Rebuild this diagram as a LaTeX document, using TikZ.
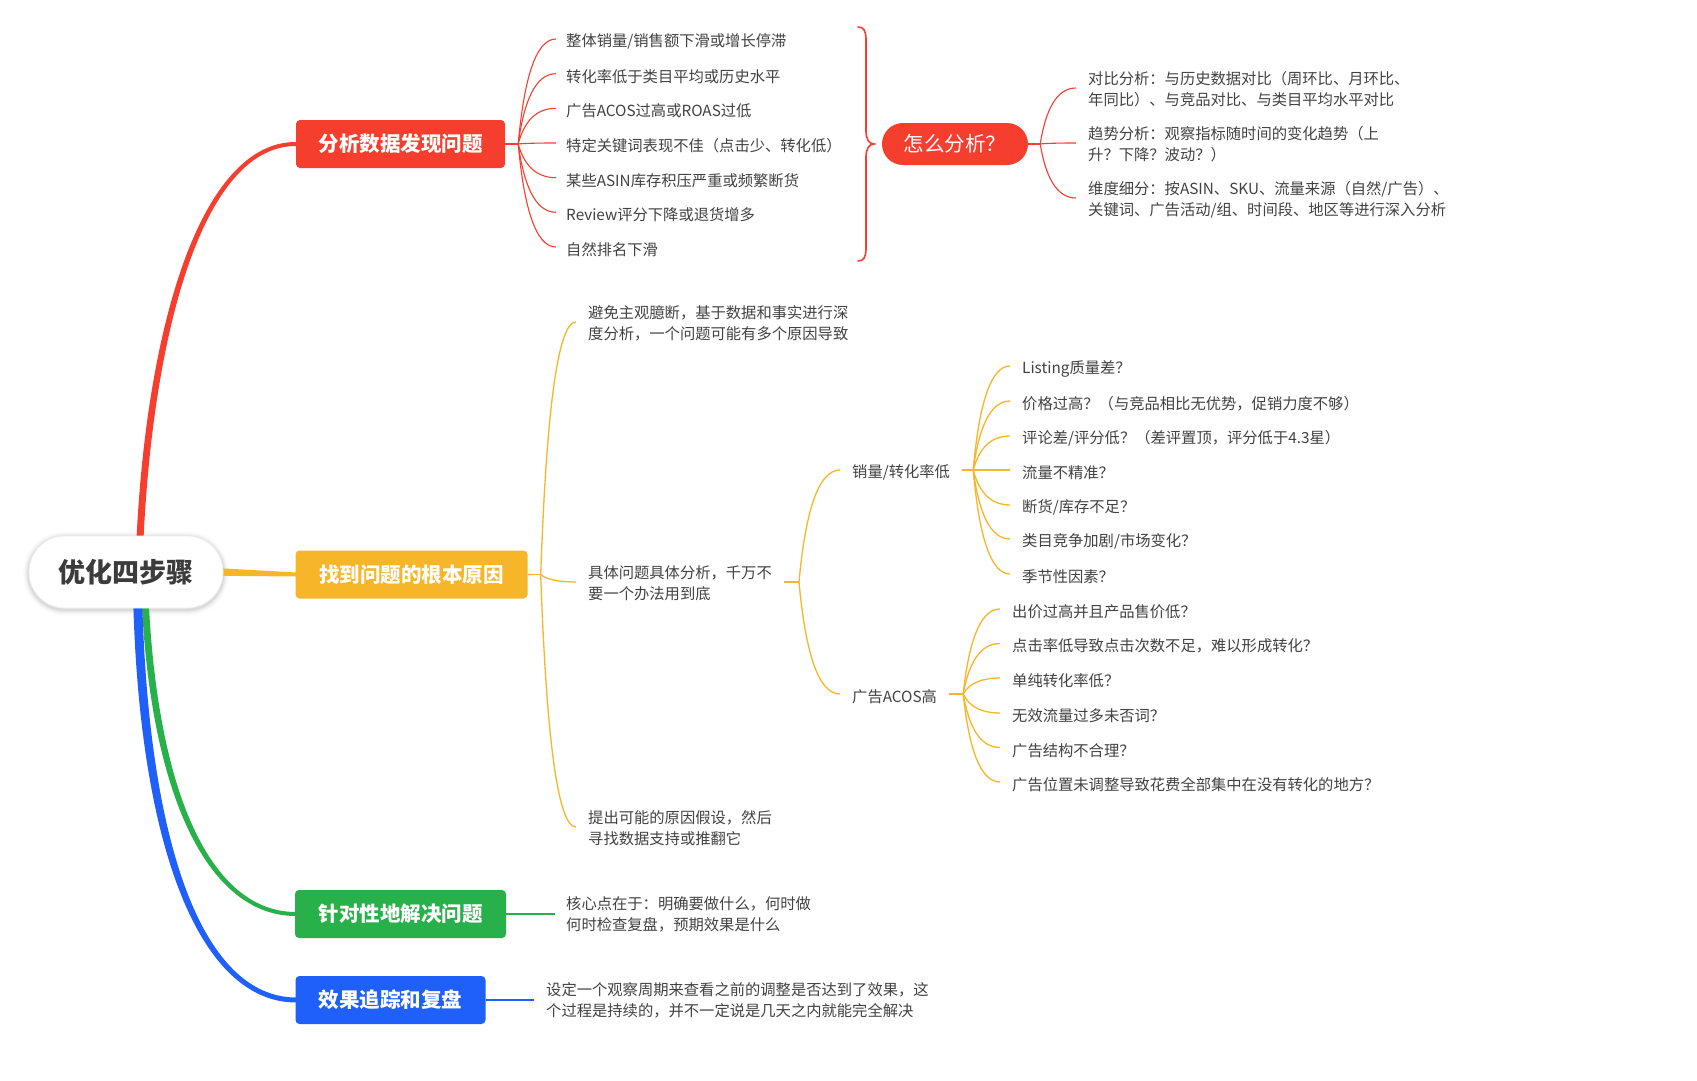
\documentclass[tikz,border=0pt]{standalone}
\usepackage{fontspec}
\setmainfont{Noto Sans CJK SC}
\usetikzlibrary{calc}
\definecolor{redc}{RGB}{246,62,47}
\definecolor{ylw}{RGB}{247,182,41}
\definecolor{grn}{RGB}{40,176,75}
\definecolor{blu}{RGB}{32,96,250}
\definecolor{txtc}{RGB}{66,66,66}
\definecolor{rootc}{RGB}{60,60,60}
\pgfdeclarelayer{back}
\pgfdeclarelayer{bg}
\pgfsetlayers{back,bg,main}
% #1 style, #2 start, #3 target anchor, #4 vertical offset of the end point
\newcommand\kidlink[4]{\draw[#1] let \p1=(#2), \p2=($(#3)+(0,#4)$), \n3={0.15*(\x2-\x1)}, \n4={0.6*(\y2-\y1)}, \n5={-0.55*(\x2-\x1)} in (\p1) .. controls +(\n3,\n4) and +(\n5,0pt) .. (\p2);}
\tikzset{
  rootbox/.style={rounded corners=36pt, minimum width=194pt, minimum height=72pt, inner sep=0pt,
    fill=white, draw=black!6, line width=0.8pt,
    font=\fontsize{27}{30}\selectfont\bfseries, text=rootc},
  mainbox/.style={rounded corners=4pt, minimum height=48pt, inner sep=0pt, text=white,
    font=\fontsize{20.5}{24}\selectfont\bfseries},
  pillbox/.style={rounded corners=21pt, minimum width=146pt, minimum height=42pt, inner sep=0pt,
    fill=redc, text=white, font=\fontsize{20.5}{24}\selectfont},
  txt/.style={anchor=west, inner xsep=12pt, inner ysep=1pt, align=left, text=txtc,
    font=\fontsize{15.3}{21}\selectfont},
  txtone/.style={txt, yshift=-2.8pt},
  rthin/.style={draw=redc, line width=1.1pt},
  ythin/.style={draw=ylw, line width=1.3pt},
  gthin/.style={draw=grn, line width=1.2pt},
  bthin/.style={draw=blu, line width=1.2pt},
}
\begin{document}
\begin{tikzpicture}[x=1pt,y=-1pt]
\useasboundingbox (0,0) rectangle (1697,1081);
\begin{pgfonlayer}{back}
\fill[white] (0,0) rectangle (1697,1081);
\end{pgfonlayer}

% ---------- root and main boxes ----------
\node[rootbox] (root) at (126,572) {优化四步骤};
\node[mainbox, fill=redc, minimum width=209pt] (rbox) at (400.5,144) {分析数据发现问题};
\node[mainbox, fill=ylw, minimum width=232pt] (ybox) at (411.5,574.5) {找到问题的根本原因};
\node[mainbox, fill=grn, minimum width=211pt] (gbox) at (400.5,914) {针对性地解决问题};
\node[mainbox, fill=blu, minimum width=190pt] (bbox) at (390.5,1000) {效果追踪和复盘};

\begin{pgfonlayer}{back}
% soft shadow of the root
\foreach \k/\o in {1/0.045,2/0.035,3/0.025,4/0.018,5/0.012,6/0.008}{
  \pgfmathsetmacro\rr{36+\k}
  \fill[black, opacity=\o, rounded corners=\rr pt] ($(root.south west)+(-\k,\k+1.5)$) rectangle ($(root.north east)+(\k,-\k+1.5)$);
}
\end{pgfonlayer}

\begin{pgfonlayer}{bg}
% red main branch (tapered)
\fill[redc] ($(root.69)+(-3.5,4)$) .. controls +(10,-211) and +(-96,0) .. ($(rbox.west)+(0,-2)$)
  -- ($(rbox.west)+(0,2)$) .. controls +(-92,0) and +(10,-211) .. ($(root.69)+(3.5,4)$) -- cycle;
% yellow main branch
\fill[ylw] ($(root.east)+(-4,-3.8)$) -- ($(ybox.west)+(1,-2)$) -- ($(ybox.west)+(1,2)$) -- ($(root.east)+(-4,3.8)$) -- cycle;
% green main branch
\fill[grn] ($(root.-62)+(-3.5,-4)$) .. controls +(10,196) and +(-86,0) .. ($(gbox.west)+(1,2)$)
  -- ($(gbox.west)+(1,-2)$) .. controls +(-82,0) and +(10,196) .. ($(root.-62)+(3.5,-4)$) -- cycle;
% blue main branch
\fill[blu] ($(root.-72)+(-4.5,-4)$) .. controls +(7,246) and +(-96,0) .. ($(bbox.west)+(1,2.5)$)
  -- ($(bbox.west)+(1,-2.5)$) .. controls +(-92,0) and +(7,246) .. ($(root.-72)+(4.5,-4)$) -- cycle;
\end{pgfonlayer}

% ---------- red subtree ----------
\coordinate (rb) at ($(rbox.east)+(13,0)$);
\draw[rthin] (rbox.east) -- (rb);
\node[txtone, inner xsep=10pt] (r1) at (556,39) {整体销量/销售额下滑或增长停滞};
\node[txtone, inner xsep=10pt] (r2) at (556,73.7) {转化率低于类目平均或历史水平};
\node[txtone, inner xsep=10pt] (r3) at (556,108.3) {广告ACOS过高或ROAS过低};
\node[txtone, inner xsep=10pt] (r4) at (556,143) {特定关键词表现不佳（点击少、转化低）};
\node[txtone, inner xsep=10pt] (r5) at (556,177.7) {某些ASIN库存积压严重或频繁断货};
\node[txtone, inner xsep=10pt] (r6) at (556,212.3) {Review评分下降或退货增多};
\node[txtone, inner xsep=10pt] (r7) at (556,247) {自然排名下滑};
\kidlink{rthin}{rb}{r1.west}{-2.8}
\kidlink{rthin}{rb}{r2.west}{-2.8}
\kidlink{rthin}{rb}{r3.west}{-2.8}
\kidlink{rthin}{rb}{r4.west}{-2.8}
\kidlink{rthin}{rb}{r5.west}{-2.8}
\kidlink{rthin}{rb}{r6.west}{-2.8}
\kidlink{rthin}{rb}{r7.west}{-2.8}

% summary brace
\draw[redc, line width=1.6pt, line cap=round] (858,27) .. controls (864,27) and (866,31) .. (866,40)
  -- (866,131) .. controls (866,139) and (869,144) .. (874,144)
  .. controls (869,144) and (866,149) .. (866,157) -- (866,248)
  .. controls (866,257) and (864,261) .. (858,261);

\node[pillbox] (pill) at (955,144) {怎么分析？};
\coordinate (pb) at ($(pill.east)+(12,0)$);
\draw[rthin] (pill.east) -- (pb);
\node[txt] (p1) at (1076,89.5) {对比分析：与历史数据对比（周环比、月环比、\\年同比）、与竞品对比、与类目平均水平对比};
\node[txt] (p2) at (1076,144.5) {趋势分析：观察指标随时间的变化趋势（上\\升？下降？波动？）};
\node[txt] (p3) at (1076,199.5) {维度细分：按ASIN、SKU、流量来源（自然/广告）、\\关键词、广告活动/组、时间段、地区等进行深入分析};
\kidlink{rthin}{pb}{p1.west}{-1.5}
\kidlink{rthin}{pb}{p2.west}{-1.5}
\kidlink{rthin}{pb}{p3.west}{-1.5}

% ---------- yellow subtree ----------
\coordinate (yb) at ($(ybox.east)+(13,0)$);
\draw[ythin] (ybox.east) -- (yb);
\node[txt] (y1) at (576,323) {避免主观臆断，基于数据和事实进行深\\度分析，一个问题可能有多个原因导致};
\node[txt] (y2) at (576,583) {具体问题具体分析，千万不\\要一个办法用到底};
\node[txt] (y3) at (576,828) {提出可能的原因假设，然后\\寻找数据支持或推翻它};
\kidlink{ythin}{yb}{y1.west}{-1}
\kidlink{ythin}{yb}{y2.west}{-1}
\kidlink{ythin}{yb}{y3.west}{-1}

\coordinate (y2b) at ($(y2.east)+(15,-1)$);
\draw[ythin] ($(y2.east)+(0,-1)$) -- (y2b);
\node[txtone] (s0) at (840,470) {销量/转化率低};
\node[txtone] (a0) at (840,694) {广告ACOS高};
\kidlink{ythin}{y2b}{s0.west}{-2.8}
\kidlink{ythin}{y2b}{a0.west}{-2.8}

\coordinate (sb) at ($(s0.east)+(11,-2.8)$);
\draw[ythin] ($(s0.east)+(0,-2.8)$) -- (sb);
\node[txtone] (s1) at (1010,366) {Listing质量差？};
\node[txtone] (s2) at (1010,401) {价格过高？（与竞品相比无优势，促销力度不够）};
\node[txtone] (s3) at (1010,436) {评论差/评分低？（差评置顶，评分低于4.3星）};
\node[txtone] (s4) at (1010,470) {流量不精准？};
\node[txtone] (s5) at (1010,505) {断货/库存不足？};
\node[txtone] (s6) at (1010,539) {类目竞争加剧/市场变化？};
\node[txtone] (s7) at (1010,574) {季节性因素？};
\kidlink{ythin}{sb}{s1.west}{-2.8}
\kidlink{ythin}{sb}{s2.west}{-2.8}
\kidlink{ythin}{sb}{s3.west}{-2.8}
\kidlink{ythin}{sb}{s4.west}{-2.8}
\kidlink{ythin}{sb}{s5.west}{-2.8}
\kidlink{ythin}{sb}{s6.west}{-2.8}
\kidlink{ythin}{sb}{s7.west}{-2.8}

\coordinate (ab) at ($(a0.east)+(14,-2.8)$);
\draw[ythin] ($(a0.east)+(0,-2.8)$) -- (ab);
\node[txtone] (a1) at (1000,609) {出价过高并且产品售价低？};
\node[txtone] (a2) at (1000,643.5) {点击率低导致点击次数不足，难以形成转化？};
\node[txtone] (a3) at (1000,678) {单纯转化率低？};
\node[txtone] (a4) at (1000,713) {无效流量过多未否词？};
\node[txtone] (a5) at (1000,747.5) {广告结构不合理？};
\node[txtone] (a6) at (1000,782) {广告位置未调整导致花费全部集中在没有转化的地方？};
\kidlink{ythin}{ab}{a1.west}{-2.8}
\kidlink{ythin}{ab}{a2.west}{-2.8}
\kidlink{ythin}{ab}{a3.west}{-2.8}
\kidlink{ythin}{ab}{a4.west}{-2.8}
\kidlink{ythin}{ab}{a5.west}{-2.8}
\kidlink{ythin}{ab}{a6.west}{-2.8}

% ---------- green and blue ----------
\node[txt, inner xsep=11pt] (gt) at (555,914) {核心点在于：明确要做什么，何时做\\何时检查复盘，预期效果是什么};
\draw[gthin] (gbox.east) -- (gt.west);
\node[txt] (bt) at (534,1000) {设定一个观察周期来查看之前的调整是否达到了效果，这\\个过程是持续的，并不一定说是几天之内就能完全解决};
\draw[bthin] (bbox.east) -- (bt.west);
\end{tikzpicture}
\end{document}
